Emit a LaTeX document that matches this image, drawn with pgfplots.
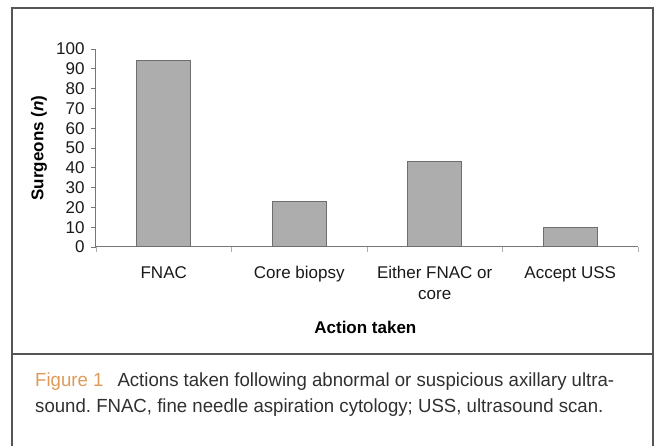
\documentclass[border=0pt]{standalone}
\usepackage{pgfplots}
\pgfplotsset{compat=1.18}
\usepackage{fontspec}
\setmainfont{Liberation Sans}
\newfontfamily\capfont[FakeStretch=0.98]{Liberation Sans}
\definecolor{barfill}{HTML}{ADADAD}
\definecolor{bardraw}{HTML}{6E6E6E}
\definecolor{axisgray}{HTML}{777777}
\definecolor{boxgray}{HTML}{555555}
\definecolor{figorange}{HTML}{DF9A58}
\definecolor{captext}{HTML}{303030}
\frenchspacing
\begin{document}
\begin{tikzpicture}[x=1pt,y=1pt]
\useasboundingbox (0,0) rectangle (657,446);
% outer frame and separator
\draw[boxgray, line width=1.2pt] (12,0) -- (12,438) -- (653,438) -- (653,0);
\draw[boxgray, line width=1.2pt] (12,92) -- (653,92);
\begin{axis}[
  at={(96pt,199pt)}, anchor=south west,
  scale only axis, width=542pt, height=198pt,
  xmin=-0.5, xmax=3.5, ymin=0, ymax=100,
  axis lines*=left,
  axis line style={axisgray, line width=1pt, -},
  tick align=outside,
  ytick={0,10,...,100},
  y tick style={axisgray, line width=0.8pt},
  major tick length=5pt,
  xtick={0,1,2,3},
  xticklabels={FNAC, Core biopsy, {Either FNAC or\\core}, Accept USS},
  major x tick style={draw=none},
  minor xtick={-0.5,0.5,1.5,2.5,3.5},
  minor x tick style={axisgray!60, line width=0.8pt},
  minor tick length=5pt,
  /pgf/number format/assume math mode=true,
  tick label style={font=\fontsize{17}{21}\selectfont, text=black!90},
  yticklabel style={xshift=-3pt},
  xticklabel style={align=center, anchor=north, yshift=-11pt},
  ylabel={\textbf{Surgeons (\textit{n})}},
  ylabel style={font=\fontsize{17}{20}\selectfont, at={(axis description cs:-0.105,0.5)}, anchor=center, rotate=0},
  xlabel={\textbf{Action taken}},
  xlabel style={font=\fontsize{17}{20}\selectfont, at={(axis description cs:0.497,-0.439)}, anchor=base},
  clip=false,
]
\addplot[ybar, bar width=54pt, fill=barfill, draw=bardraw, line width=1pt]
  coordinates {(0,94) (1,23) (2,43) (3,10)};
\end{axis}
\node[anchor=base west, inner sep=0pt, text=captext] at (35,59)
  {\capfont\fontsize{19}{23}\selectfont\textcolor{figorange}{Figure 1}\hspace{14pt}Actions taken following abnormal or suspicious axillary ultra-};
\node[anchor=base west, inner sep=0pt, text=captext] at (35,33)
  {\capfont\fontsize{19}{23}\selectfont sound. FNAC, fine needle aspiration cytology; USS, ultrasound scan.};
\end{tikzpicture}
\end{document}
